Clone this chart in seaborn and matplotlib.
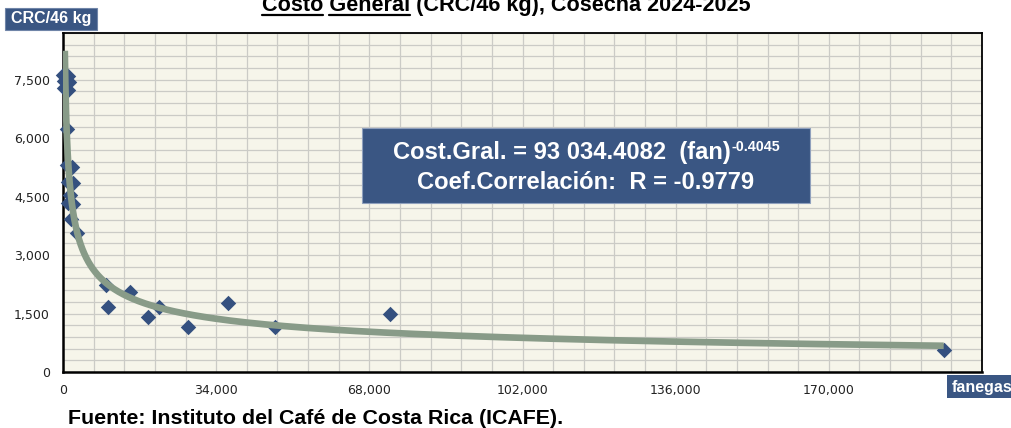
import os
import numpy as np
import pandas as pd
import matplotlib
matplotlib.use("Agg")
import matplotlib.pyplot as plt
import matplotlib.font_manager as fm
from matplotlib.patches import Rectangle
from matplotlib.lines import Line2D
from matplotlib.ticker import MultipleLocator, FuncFormatter
import seaborn as sb

### DATA
fanegas = [100, 1200, 150, 1300, 200, 1200, 900, 900, 1950, 1000, 2300, 1550,
           1000, 2300, 1700, 3100, 9550, 10100, 14900, 18800, 21400, 27850,
           36600, 47100, 72500, 195500]
costo = [7620, 7600, 7480, 7450, 7300, 7250, 6240, 5300, 5250, 4880, 4860, 4545,
         4340, 4320, 3930, 3560, 2230, 1670, 2060, 1410, 1680, 1150,
         1780, 1150, 1490, 565]

# trend line shown in the chart: Cost.Gral. = a * fan^b
coef_a = 93034.4082
coef_b = -0.4045
trend_x = np.geomspace(400, 195500, 400)
trend_y = coef_a * trend_x ** coef_b

x_ticks = [0, 34000, 68000, 102000, 136000, 170000]
titulo = "Costo General (CRC/46 kg), Cosecha 2024-2025"
ecuacion = "Cost.Gral. = 93 034.4082  (fan)"
exponente = "-0.4045"
correlacion = "Coef.Correlación:  R = -0.9779"
fuente = "Fuente: Instituto del Café de Costa Rica (ICAFE)."

df = pd.DataFrame({"fanegas": fanegas, "costo": costo})
df_trend = pd.DataFrame({"fanegas": trend_x, "costo": trend_y})

### COLOURS
azul = "#34507F"
caja = "#3A5683"
verde = "#889B88"
fondo = "#F6F5EA"
grilla = "#CBCBC6"

W, H = 1012, 428
def fx(px):
    return px / W
def fy(py):
    return 1 - py / H

# Liberation Sans Bold, picked by file
ruta = None
for f in fm.findSystemFonts():
    if os.path.basename(f).lower() == "liberationsans-bold.ttf":
        ruta = f
        break

def fuente_bold(size):
    if ruta:
        return fm.FontProperties(fname=ruta, size=size)
    return fm.FontProperties(family="Liberation Sans", weight="bold", stretch="normal", size=size)

sb.set_style("white")
plt.rcParams["font.family"] = ["DejaVu Sans"]

fig = plt.figure(figsize=(W / 100, H / 100), dpi=100)
ax = fig.add_axes([fx(63), fy(372), (982 - 63) / W, (372 - 33) / H])
ax.set_facecolor(fondo)

sb.scatterplot(data=df, x="fanegas", y="costo", marker="D", s=62, color=azul,
               edgecolor=azul, linewidth=0, ax=ax, zorder=3, clip_on=False)
sb.lineplot(data=df_trend, x="fanegas", y="costo", color=verde, lw=4.8, ax=ax,
            zorder=4, solid_capstyle="butt")

ax.set_xlim(0, 204000)
ax.set_ylim(0, 8700)
ax.xaxis.set_minor_locator(MultipleLocator(6800))
ax.yaxis.set_major_locator(MultipleLocator(1500))
ax.yaxis.set_minor_locator(MultipleLocator(300))
fmt = FuncFormatter(lambda v, p: f"{int(round(v)):,}")
ax.set_xticks(x_ticks)
ax.xaxis.set_major_formatter(fmt)
ax.yaxis.set_major_formatter(fmt)
ax.grid(which="both", color=grilla, lw=0.9)
ax.set_axisbelow(True)
ax.tick_params(which="major", direction="out", length=3.5, width=1, color="black",
               labelsize=9, labelcolor="#222222")
ax.tick_params(axis="y", pad=6)
ax.tick_params(axis="x", pad=5)
ax.tick_params(which="minor", length=0)
ax.set_xlabel("")
ax.set_ylabel("")
for side in ["left", "bottom"]:
    ax.spines[side].set_linewidth(1.8)
    ax.spines[side].set_color("black")
    ax.spines[side].set_zorder(2.5)
for side in ["top", "right"]:
    ax.spines[side].set_linewidth(1.3)
    ax.spines[side].set_color("black")

fig.canvas.draw()
r = fig.canvas.get_renderer()

def ancho(s, fp):
    t = fig.text(0, 0, s, fontproperties=fp)
    w = t.get_window_extent(r).width
    t.remove()
    return w

def tam_para(s, target):
    # font size close to the width seen in the picture
    return 0.96 * 20 * target / ancho(s, fuente_bold(20))

# label boxes
fig.patches.append(Rectangle((fx(5), fy(30)), 92 / W, 22 / H, transform=fig.transFigure,
                             facecolor=caja, edgecolor="#7085A8", lw=0.8, zorder=5))
fig.text(fx(51), fy(19), "CRC/46 kg", ha="center", va="center", color="white",
         fontproperties=fuente_bold(11.5), zorder=6)
fig.patches.append(Rectangle((fx(947), fy(398)), 70 / W, 23 / H, transform=fig.transFigure,
                             facecolor=caja, edgecolor="none"))
fig.text(fx(952), fy(387.5), "fanegas", ha="left", va="center", color="white",
         fontproperties=fuente_bold(11.5))

# equation box
fig.patches.append(Rectangle((fx(362), fy(203)), (810 - 362) / W, (203 - 128) / H,
                             transform=fig.transFigure, facecolor=caja,
                             edgecolor="#8FA0BD", lw=0.8, zorder=5))
t1 = tam_para(ecuacion, 372)
t2 = tam_para(correlacion, 330)
teq = (t1 + t2) / 2
fp_eq = fuente_bold(teq)
fp_sup = fuente_bold(teq * 0.6)
w_main = ancho(ecuacion, fp_eq)
w_sup = ancho(exponente, fp_sup)
x0 = 586 - (w_main + w_sup) / 2
fig.text(fx(x0), fy(159), ecuacion, ha="left", va="baseline", color="white",
         fontproperties=fp_eq, zorder=6)
fig.text(fx(x0 + w_main + 1), fy(151), exponente, ha="left", va="baseline", color="white",
         fontproperties=fp_sup, zorder=6)
fig.text(fx(586), fy(189), correlacion, ha="center", va="baseline", color="white",
         fontproperties=fp_eq, zorder=6)

# title, cut at the top, with underlined words
fp_t = fuente_bold(tam_para(titulo, 507))
w_tit = ancho(titulo, fp_t)
cx = 506
fig.text(fx(cx), fy(11), titulo, ha="center", va="baseline", color="black", fontproperties=fp_t)
izq = cx - w_tit / 2
w_costo = ancho("Costo", fp_t)
w_cg = ancho("Costo General", fp_t)
w_gen = ancho("General", fp_t)
for a, b in [(izq, izq + w_costo), (izq + w_cg - w_gen, izq + w_cg)]:
    fig.lines.append(Line2D([fx(a), fx(b)], [fy(15), fy(15)], transform=fig.transFigure,
                            color="black", lw=1.6))

# source
fig.text(fx(68), fy(424), fuente, ha="left", va="baseline", color="black",
         fontproperties=fuente_bold(tam_para(fuente, 515)))

fig.savefig("out.png", dpi=100, facecolor="white")
